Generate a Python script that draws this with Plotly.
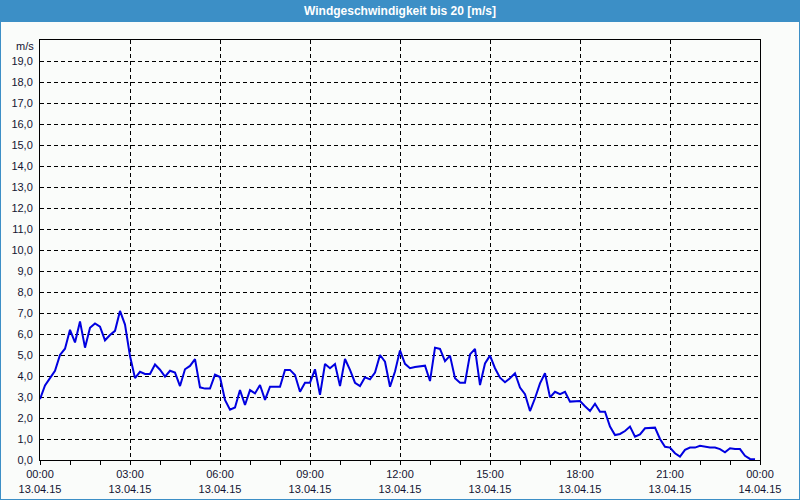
import plotly.graph_objects as go

times = [f"2015-04-13 {h:02d}:{m:02d}" for h in range(24) for m in range(0, 60, 10)]
speed = [
    2.9, 3.55, 3.9, 4.25, 5.0, 5.3,
    6.2, 5.6, 6.6, 5.35, 6.3, 6.5,
    6.35, 5.7, 5.95, 6.15, 7.1, 6.45,
    4.95, 3.9, 4.2, 4.1, 4.1, 4.55,
    4.3, 3.97, 4.25, 4.16, 3.52, 4.32,
    4.48, 4.8, 3.46, 3.4, 3.4, 4.06,
    3.95, 2.86, 2.4, 2.5, 3.33, 2.62,
    3.33, 3.17, 3.57, 2.86, 3.49, 3.49,
    3.49, 4.29, 4.29, 4.05, 3.25, 3.68,
    3.68, 4.32, 3.1, 4.57, 4.37, 4.57,
    3.52, 4.81, 4.29, 3.68, 3.52, 3.94,
    3.84, 4.16, 5.0, 4.68, 3.49, 4.21,
    5.22, 4.58, 4.37, 4.43, 4.46, 4.49,
    3.76, 5.35, 5.29, 4.71, 4.97, 3.89,
    3.68, 3.68, 5.03, 5.29, 3.57, 4.6,
    4.97, 4.37, 3.92, 3.7, 3.89, 4.13,
    3.45, 3.13, 2.33, 2.94, 3.65, 4.13,
    2.98, 3.25, 3.14, 3.25, 2.78, 2.81,
    2.81, 2.56, 2.33, 2.68, 2.3, 2.3,
    1.59, 1.19, 1.24, 1.38, 1.59, 1.11,
    1.22, 1.51, 1.54, 1.54, 1.0, 0.63,
    0.59, 0.32, 0.16, 0.48, 0.59, 0.59,
    0.68, 0.63, 0.6, 0.59, 0.52, 0.37,
    0.56, 0.52, 0.52, 0.2, 0.05, 0.03,
]

x_tickvals = [f"2015-04-13 {h:02d}:00" for h in range(0, 24, 3)] + ["2015-04-14 00:00"]
x_ticktext = [f"{h:02d}:00<br>13.04.15" for h in range(0, 24, 3)] + ["00:00<br>14.04.15"]
y_tickvals = list(range(0, 20))
y_ticktext = [f"{v},0" for v in y_tickvals]
title_text = "Windgeschwindigkeit bis 20 [m/s]"
unit_text = "m/s"

W, H = 800, 500
L, R, T, B = 40, 40, 40, 40
PW, PH = W - L - R, H - T - B

def px_x(p):
    return (p - L) / PW

def px_y(p):
    return (H - B - p) / PH

FONT = "Liberation Sans"
TXT = "#141432"
BG = "#fafcfa"
FRAME = "#3c8fc6"

fig = go.Figure()
fig.add_trace(go.Scatter(
    x=times, y=speed, mode="lines",
    line=dict(color="#0000e0", width=2),
    hoverinfo="skip", showlegend=False,
))

fig.update_layout(
    width=W, height=H,
    margin=dict(l=L, r=R, t=T, b=B, autoexpand=False),
    paper_bgcolor=BG, plot_bgcolor=BG,
    font=dict(family=FONT, size=11, color=TXT),
    xaxis=dict(
        type="date", automargin=False,
        range=["2015-04-13 00:00", "2015-04-14 00:00"],
        tickmode="array", tickvals=x_tickvals, ticktext=x_ticktext,
        ticks="outside", ticklen=4, tickcolor="black",
        showgrid=True, gridcolor="black", gridwidth=1, griddash="4px,3px",
        showline=True, linecolor="black", linewidth=1, mirror=True,
        minor=dict(dtick=3600000, ticks="outside", ticklen=4, tickcolor="black", showgrid=False),
        tickfont=dict(family=FONT, size=11, color=TXT),
        zeroline=False, fixedrange=True,
    ),
    yaxis=dict(
        range=[0, 20], automargin=False,
        tickmode="array", tickvals=y_tickvals, ticktext=y_ticktext,
        ticks="", ticklabelstandoff=4,
        showgrid=True, gridcolor="black", gridwidth=1, griddash="4px,3px",
        showline=True, linecolor="black", linewidth=1, mirror=True,
        tickfont=dict(family=FONT, size=11, color=TXT),
        zeroline=False, fixedrange=True,
    ),
    shapes=[
        dict(type="rect", xref="paper", yref="paper",
             x0=px_x(0), x1=px_x(W), y0=px_y(22), y1=px_y(0),
             fillcolor=FRAME, line=dict(width=0), layer="above"),
        dict(type="line", xref="paper", yref="paper",
             x0=px_x(0.5), x1=px_x(0.5), y0=px_y(0), y1=px_y(H),
             line=dict(color=FRAME, width=1)),
        dict(type="line", xref="paper", yref="paper",
             x0=px_x(W - 0.5), x1=px_x(W - 0.5), y0=px_y(0), y1=px_y(H),
             line=dict(color=FRAME, width=1)),
        dict(type="line", xref="paper", yref="paper",
             x0=px_x(0), x1=px_x(W), y0=px_y(H - 0.5), y1=px_y(H - 0.5),
             line=dict(color=FRAME, width=1)),
    ],
    annotations=[
        dict(text=f"<b>{title_text}</b>", xref="paper", yref="paper",
             x=0.5, y=px_y(11), xanchor="center", yanchor="middle",
             showarrow=False, font=dict(family=FONT, size=12, color="white")),
        dict(text=unit_text, xref="paper", yref="paper",
             x=px_x(36), y=px_y(46), xanchor="right", yanchor="middle",
             showarrow=False, font=dict(family=FONT, size=11, color=TXT)),
    ],
)

fig.write_html("out.html")
